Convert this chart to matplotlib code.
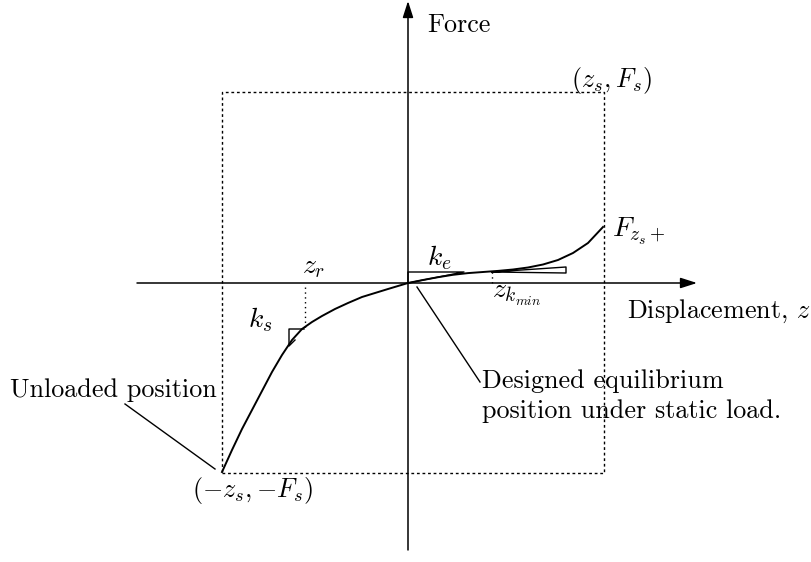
import matplotlib
matplotlib.use('Agg')
from matplotlib import pyplot as plt

plt.rcParams['font.family'] = 'serif'
plt.rcParams['font.serif'] = ['cmr10']
plt.rcParams['mathtext.fontset'] = 'cm'
plt.rcParams['axes.unicode_minus'] = False

# force-displacement curve (z, F), origin = designed equilibrium
curve_z = [-186, -176, -166, -156, -146, -136, -126, -116, -106, -96, -86,
           -73, -60, -46, -33, -20, -10, 0,
           15, 30, 45, 60, 75, 90, 105, 120, 135, 150, 165, 180, 195]
curve_F = [-189, -167, -146, -127, -108, -89, -72, -57, -46, -39, -33,
           -26, -20, -14, -10, -6, -3, 0,
           3, 5.8, 8.2, 9.9, 11.0, 12.1, 13.5, 15.5, 18.5, 23, 30, 40, 56]

# static load box corners
zs = 196
zs_neg = -186
Fs = 191
Fs_neg = -190

# tangent triangles
ke_z = [0, 0, 56, 0]
ke_F = [0, 11, 11, 0]
kmin_z = [84, 158, 158, 84]
kmin_F = [11, 16, 10, 11]
ks_z = [-104, -119, -119, -113]
ks_F = [-46, -46, -63, -57]

z_r = -103
z_kmin = 84

fig = plt.figure(figsize=(8.11, 5.62), dpi=100)
ax = fig.add_axes([0, 0, 1, 1])
ax.set_xlim(-408, 403)
ax.set_ylim(-279, 283)
ax.axis('off')

# axes with arrows
arrow = dict(arrowstyle='-|>,head_length=1.0,head_width=0.32', lw=1.1, color='k',
             shrinkA=0, shrinkB=0)
ax.annotate('', xy=(289, 0), xytext=(-271, 0), arrowprops=arrow)
ax.annotate('', xy=(0, 282), xytext=(0, -267), arrowprops=arrow)

# dotted box
ax.plot([zs_neg, zs, zs, zs_neg, zs_neg], [Fs_neg, Fs_neg, Fs, Fs, Fs_neg],
        color='k', lw=1.0, linestyle=(0, (2, 2)))

# curve
ax.plot(curve_z, curve_F, color='k', lw=1.4, solid_joinstyle='round')

# triangles
for tz, tF in [(ke_z, ke_F), (kmin_z, kmin_F), (ks_z, ks_F)]:
    ax.plot(tz, tF, color='k', lw=1.0)

# dotted guides
ax.plot([z_r, z_r], [-4, -46], color='k', lw=1.0, linestyle=(0, (1, 2.5)))
ax.plot([z_kmin, z_kmin], [0, 11], color='k', lw=1.0, linestyle=(0, (1, 2.5)))

# leader lines
ax.plot([-283, -193], [-121, -186], color='k', lw=1.0)
ax.plot([9, 72], [-4, -99], color='k', lw=1.0)

fs = 18.8
fm = 20
ax.text(19, 251, 'Force', fontsize=fs, va='baseline')
ax.text(244, 203, r'$(z_s, F_s)$', fontsize=fs, ha='right', va='center')
ax.text(204, 46, r'$F_{z_s+}$', fontsize=fm, va='baseline')
ax.text(19, 18, r'$k_e$', fontsize=fm, va='baseline')
ax.text(84, -15, r'$z_{k_{min}}$', fontsize=fm, va='baseline')
ax.text(-106, 10, r'$z_r$', fontsize=fm, va='baseline')
ax.text(-160, -44, r'$k_s$', fontsize=fm, va='baseline')
ax.text(219, -35, r'Displacement, $z$', fontsize=fs, va='baseline')
ax.text(-398, -114, 'Unloaded position', fontsize=fs, va='baseline')
ax.text(74, -105, 'Designed equilibrium', fontsize=fs, va='baseline')
ax.text(74, -135, 'position under static load.', fontsize=fs, va='baseline')
ax.text(-216, -207, r'$(-z_s,{-}F_s)$', fontsize=fs, va='center')

plt.savefig('out.png', dpi=100)
